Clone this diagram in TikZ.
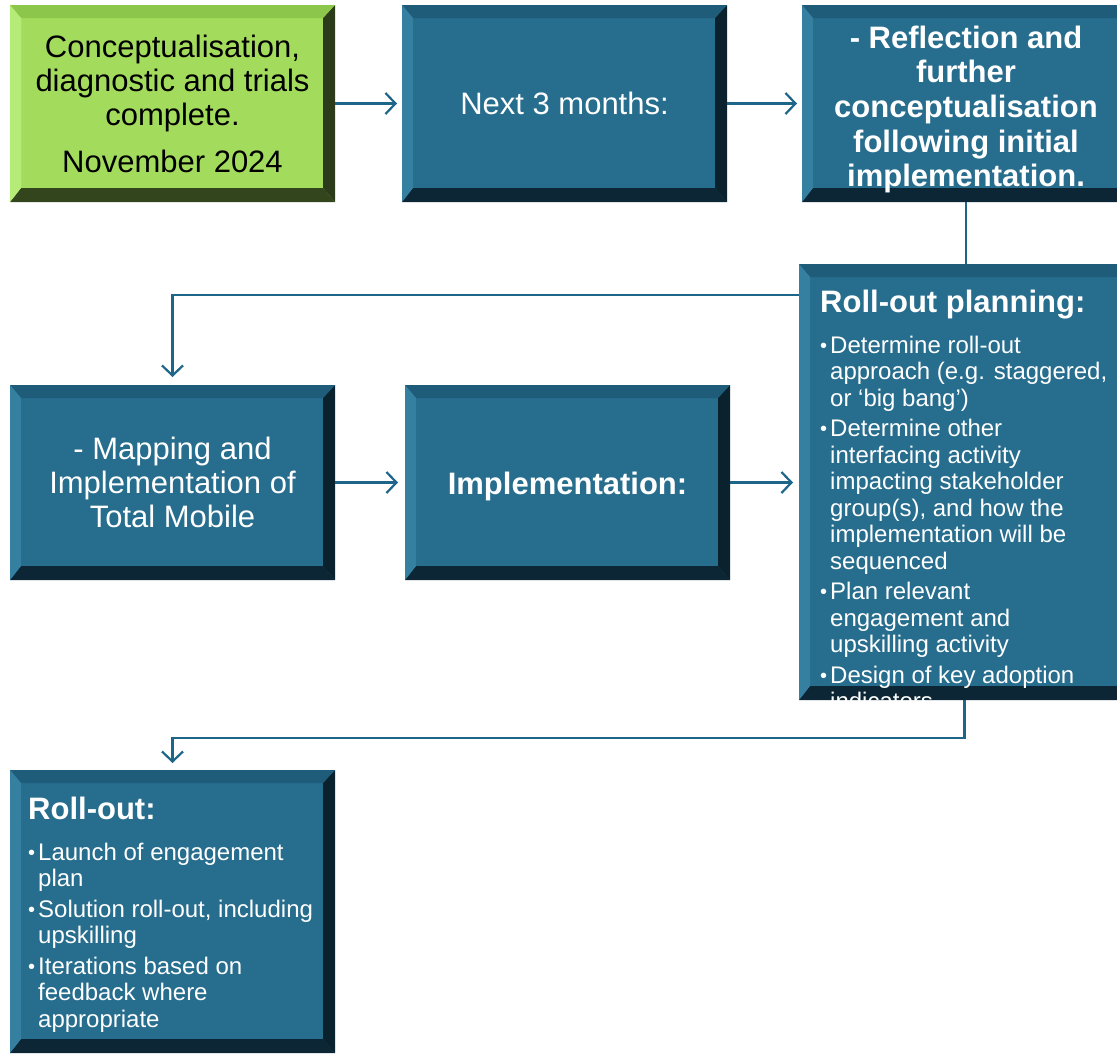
\documentclass[tikz,border=0pt]{standalone}
\usepackage{fontspec}
\setmainfont{Liberation Sans}
\usetikzlibrary{arrows.meta}

\definecolor{tealface}{HTML}{276D8D}
\definecolor{tealtop}{HTML}{1E5C7A}
\definecolor{tealleft}{HTML}{3580A1}
\definecolor{tealright}{HTML}{0A212E}
\definecolor{tealbottom}{HTML}{0C2635}
\definecolor{limeface}{HTML}{A3DC5D}
\definecolor{limetop}{HTML}{8CC64B}
\definecolor{limeleft}{HTML}{B5EC78}
\definecolor{limeright}{HTML}{2C3B19}
\definecolor{limebottom}{HTML}{33451D}
\definecolor{linkblue}{HTML}{1D6589}

\newcommand{\boxfont}{\fontsize{31}{34}\selectfont}
\newcommand{\titlefont}{\bfseries\fontsize{31}{34}\selectfont\spaceskip=0pt\xspaceskip=0pt}
\newcommand{\listfont}{\fontsize{24}{26.5}\selectfont\spaceskip=0pt\xspaceskip=0pt\parskip=4pt}
\newcommand{\bul}{\noindent\hangindent=10pt\hangafter=1\makebox[10pt][l]{\raisebox{1pt}{\fontsize{20}{20}\selectfont\textbullet}}}

\tikzset{
  bevelbox/.style={fill=#1face, inner sep=0pt, outer sep=0pt, anchor=north west,
    path picture={
      \fill[#1right] (path picture bounding box.north east) -- (path picture bounding box.south east)
        -- ([shift={(-12pt,14pt)}]path picture bounding box.south east)
        -- ([shift={(-12pt,-13pt)}]path picture bounding box.north east) -- cycle;
      \fill[#1bottom] (path picture bounding box.south west) -- (path picture bounding box.south east)
        -- ([shift={(-12pt,14pt)}]path picture bounding box.south east)
        -- ([shift={(11pt,14pt)}]path picture bounding box.south west) -- cycle;
      \fill[#1top] (path picture bounding box.north west) -- (path picture bounding box.north east)
        -- ([shift={(-12pt,-13pt)}]path picture bounding box.north east)
        -- ([shift={(11pt,-13pt)}]path picture bounding box.north west) -- cycle;
      \fill[#1left] (path picture bounding box.north west)
        -- ([shift={(11pt,-13pt)}]path picture bounding box.north west)
        -- ([shift={(11pt,14pt)}]path picture bounding box.south west)
        -- (path picture bounding box.south west) -- cycle;
    }},
  boxtext/.style={align=center, font=\boxfont, text=white},
  listtext/.style={anchor=north west, inner sep=0pt, text=white, text width=300pt, align=left},
  plainlink/.style={draw=linkblue, line width=2.2pt},
  link/.style={plainlink, -{Straight Barb[length=10pt,width=21pt]}},
}

\begin{document}
\begin{tikzpicture}[x=1pt,y=1pt]
\useasboundingbox (0,0) rectangle (1117,-1053);
% top row:
\node[bevelbox=lime, boxtext, text=black, minimum width=325, minimum height=197] (concept) at (10,-5)
  {Conceptualisation,\\diagnostic and trials\\complete.\\[13pt]November 2024};
\node[bevelbox=teal, boxtext, minimum width=325, minimum height=197] (next) at (402,-5) {Next 3 months:};
\node[bevelbox=teal, minimum width=328, minimum height=197] (refl) at (802,-5) {};
\node[boxtext, font=\bfseries\fontsize{31}{34.7}\selectfont] (refltext) at ([yshift=-6pt]refl.center)
  {- Reflection and\\further\\conceptualisation\\following initial\\implementation.};
% middle row:
\node[bevelbox=teal, minimum width=331, minimum height=436] (plan) at (799,-264) {};
\node[bevelbox=teal, boxtext, minimum width=325, minimum height=195] (map) at (10,-385)
  {- Mapping and\\Implementation of\\Total Mobile};
\node[bevelbox=teal, minimum width=325, minimum height=195] (impl) at (405,-385) {};
\node[boxtext, font=\titlefont] (impltext) at ([yshift=-4pt]impl.center) {Implementation:};
% bottom row:
\node[bevelbox=teal, minimum width=325, minimum height=283] (roll) at (10,-770) {};

% list texts:
\begin{scope}
\clip (plan.north west) rectangle (plan.south east);
\node[listtext] (plantext) at (820,-290) {%
  {\titlefont Roll-out planning:\par}\vspace{10pt}
  {\listfont
  \bul Determine roll-out\newline approach (e.g. staggered,\newline or `big bang')\par
  \bul Determine other\newline interfacing activity\newline impacting stakeholder\newline group(s), and how the\newline implementation will be\newline sequenced\par
  \bul Plan relevant\newline engagement and\newline upskilling activity\par
  \bul Design of key adoption\newline indicators\par}};
\end{scope}
\node[listtext] (rolltext) at (28,-797) {%
  {\titlefont Roll-out:\par}\vspace{10pt}
  {\listfont
  \bul Launch of engagement\newline plan\par
  \bul Solution roll-out, including\newline upskilling\par
  \bul Iterations based on\newline feedback where\newline appropriate\par}};

% connectors:
\draw[link, shorten >=5pt] (concept.east) -- (next.west);
\draw[link, shorten >=5pt] (next.east) -- (refl.west);
\draw[plainlink] (refl.south) -- (refl.south |- plan.north);
\draw[link, shorten >=8pt] ([yshift=-31pt]plan.north west) -| (map.north);
\draw[link, shorten >=7pt] (map.east) -- (impl.west);
\draw[link, shorten >=6pt] (impl.east) -- (impl.east -| plan.west);
\draw[link, shorten >=7pt] (plan.south) -- ++(0,-38) -| (roll.north);
\end{tikzpicture}
\end{document}
